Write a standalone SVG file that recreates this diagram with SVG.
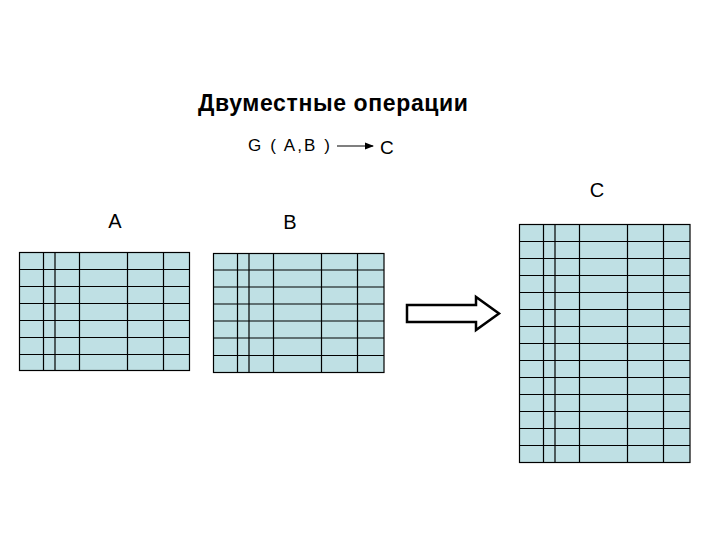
<svg xmlns="http://www.w3.org/2000/svg" width="720" height="540" viewBox="0 0 720 540">
<style>
.t{font-family:"Liberation Sans",Arial,sans-serif;fill:#000}
.tb{fill:#bfe0e4;stroke:#000;stroke-width:1.2}
.g{stroke:#000;stroke-width:1.2;fill:none}
</style>
<defs><marker id="ah" markerWidth="8" markerHeight="6" refX="7" refY="3" orient="auto"><path d="M0,0L8,3L0,6z" fill="#000"/></marker></defs>
<rect width="720" height="540" fill="#fff"/>
<g id="title"><text class="t" x="333" y="111" font-size="23" font-weight="bold" text-anchor="middle" textLength="270">Двуместные операции</text></g>
<g id="formula"><text class="t" x="248" y="151" font-size="17" textLength="82">G ( A,B )</text><text class="t" x="380" y="154" font-size="19">C</text></g>
<g id="labels"><text class="t" x="115" y="228" font-size="20" text-anchor="middle">A</text><text class="t" x="290" y="229" font-size="20" text-anchor="middle">B</text><text class="t" x="597" y="197" font-size="20" text-anchor="middle">C</text></g>
<g id="tableA"><rect class="tb" x="19.5" y="252.5" width="170" height="118"/>
<path class="g" d="M43.5,252.5V370.5M55,252.5V370.5M79.5,252.5V370.5M127.5,252.5V370.5M163.5,252.5V370.5M19.5,269.5H189.5M19.5,286.5H189.5M19.5,303.5H189.5M19.5,320.5H189.5M19.5,337.5H189.5M19.5,354.5H189.5"/></g>
<g id="tableB"><rect class="tb" x="213.5" y="253.5" width="170.5" height="119"/>
<path class="g" d="M237.5,253.5V372.5M249,253.5V372.5M273.5,253.5V372.5M321.5,253.5V372.5M357.5,253.5V372.5M213.5,270H384M213.5,287H384M213.5,304H384M213.5,321H384M213.5,338H384M213.5,355.5H384"/></g>
<g id="tableC"><rect class="tb" x="519.5" y="224.5" width="170.5" height="238"/>
<path class="g" d="M543.5,224.5V462.5M555,224.5V462.5M579.5,224.5V462.5M627.5,224.5V462.5M663.5,224.5V462.5M519.5,241.5H690M519.5,258.5H690M519.5,275.5H690M519.5,292.5H690M519.5,309.5H690M519.5,326.5H690M519.5,343.5H690M519.5,360.5H690M519.5,377.5H690M519.5,394.5H690M519.5,411.5H690M519.5,428.5H690M519.5,445.5H690"/></g>
<g id="connectors">
<line x1="337" y1="146" x2="373" y2="146" stroke="#000" stroke-width="1.2" marker-end="url(#ah)"/>
<path d="M407,305H476V297L499,313.5L476,330V322H407Z" fill="#fff" stroke="#000" stroke-width="2.5" stroke-linejoin="miter"/>
</g>
</svg>
